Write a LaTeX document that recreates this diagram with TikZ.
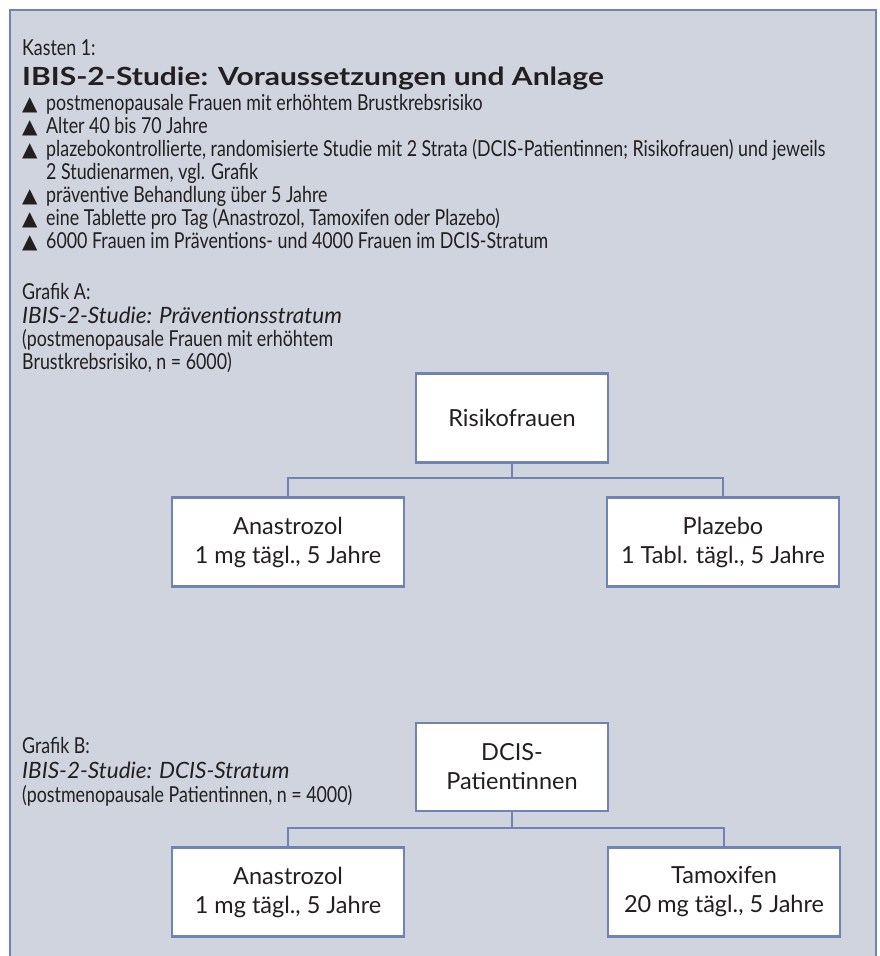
\documentclass[tikz,border=0pt]{standalone}
\usepackage{fontspec}
\setmainfont{Lato}
\newfontfamily\narrowfont[FakeStretch=0.81]{Lato}
\newfontfamily\widefont[FakeStretch=1.2]{Lato}
\newfontfamily\symfont{DejaVu Sans}
\definecolor{frameblue}{RGB}{112,131,178}
\definecolor{panelgrey}{RGB}{208,212,222}
\definecolor{inkblack}{RGB}{35,31,32}

\begin{document}
\begin{tikzpicture}[x=1pt,y=-1pt,
  line/.style={anchor=base west,inner sep=0pt,text=inkblack,
    font=\narrowfont\fontsize{22}{26}\selectfont},
  bullet/.style={anchor=base west,inner sep=0pt,text=inkblack,
    font=\symfont\fontsize{20}{22}\selectfont},
  heading/.style={anchor=base west,inner sep=0pt,text=inkblack,
    font=\widefont\bfseries\fontsize{25}{28}\selectfont},
  subhead/.style={anchor=base west,inner sep=0pt,text=inkblack,
    font=\itshape\fontsize{22.5}{26}\selectfont},
  arm/.style={draw=frameblue,line width=2.2pt,fill=white,inner sep=0pt,
    minimum width=232pt,minimum height=89pt,align=center,text=inkblack,
    font=\fontsize{23.5}{29}\selectfont},
  root/.style={arm,minimum width=192pt},
  link/.style={draw=frameblue,line width=2.2pt}]
  \useasboundingbox (0,0) rectangle (880,956);
  \fill[white] (0,0) rectangle (880,956);
  \fill[panelgrey] (10,10) rectangle (876,956);
  \draw[frameblue,line width=2.5pt] (10,956) -- (10,10) -- (876,10) -- (876,956);

  % Kasten
  \node[line] (kasten) at (22,55) {Kasten 1:};
  \node[heading] (title) at (22,85) {IBIS-2-Studie: Voraussetzungen und Anlage};
  \node[bullet] (t1) at (22,110) {▲};
  \node[line] (b1) at (46,110) {postmenopausale Frauen mit erhöhtem Brustkrebsrisiko};
  \node[bullet] (t2) at (22,133) {▲};
  \node[line] (b2) at (46,133) {Alter 40 bis 70 Jahre};
  \node[bullet] (t3) at (22,156) {▲};
  \node[line] (b3) at (46,156) {plazebokontrollierte, randomisierte Studie mit 2 Strata (DCIS-Patientinnen; Risikofrauen) und jeweils};
  \node[line] (b3b) at (46,179) {2 Studienarmen, vgl. Grafik};
  \node[bullet] (t4) at (22,202) {▲};
  \node[line] (b4) at (46,202) {präventive Behandlung über 5 Jahre};
  \node[bullet] (t5) at (22,225) {▲};
  \node[line] (b5) at (46,225) {eine Tablette pro Tag (Anastrozol, Tamoxifen oder Plazebo)};
  \node[bullet] (t6) at (22,248) {▲};
  \node[line] (b6) at (46,248) {6000 Frauen im Präventions- und 4000 Frauen im DCIS-Stratum};

  % Grafik A
  \node[line] (grafA) at (22,299) {Grafik A:};
  \node[subhead] (headA) at (22,323) {IBIS-2-Studie: Präventionsstratum};
  \node[line] (noteA) at (22,346) {(postmenopausale Frauen mit erhöhtem};
  \node[line] (noteAb) at (22,369) {Brustkrebsrisiko, n = 6000)};
  \node[root] (risk) at (512,418) {Risikofrauen};
  \node[arm] (anaA) at (288,542) {Anastrozol\\1 mg tägl., 5 Jahre};
  \node[arm] (plaz) at (723,542) {Plazebo\\1 Tabl. tägl., 5 Jahre};
  \draw[link] (risk.south) -- ++(0,14) -| (anaA.north);
  \draw[link] (risk.south) -- ++(0,14) -| (plaz.north);

  % Grafik B
  \node[line] (grafB) at (22,753) {Grafik B:};
  \node[subhead] (headB) at (22,778) {IBIS-2-Studie: DCIS-Stratum};
  \node[line] (noteB) at (22,802) {(postmenopausale Patientinnen, n = 4000)};
  \node[root,minimum height=88pt] (dcis) at (512,767) {DCIS-\\Patientinnen};
  \node[arm] (anaB) at (288,892) {Anastrozol\\1 mg tägl., 5 Jahre};
  \node[arm] (tamox) at (724,892) {Tamoxifen\\20 mg tägl., 5 Jahre};
  \draw[link] (dcis.south) -- ++(0,16) -| (anaB.north);
  \draw[link] (dcis.south) -- ++(0,16) -| (tamox.north);
\end{tikzpicture}
\end{document}
